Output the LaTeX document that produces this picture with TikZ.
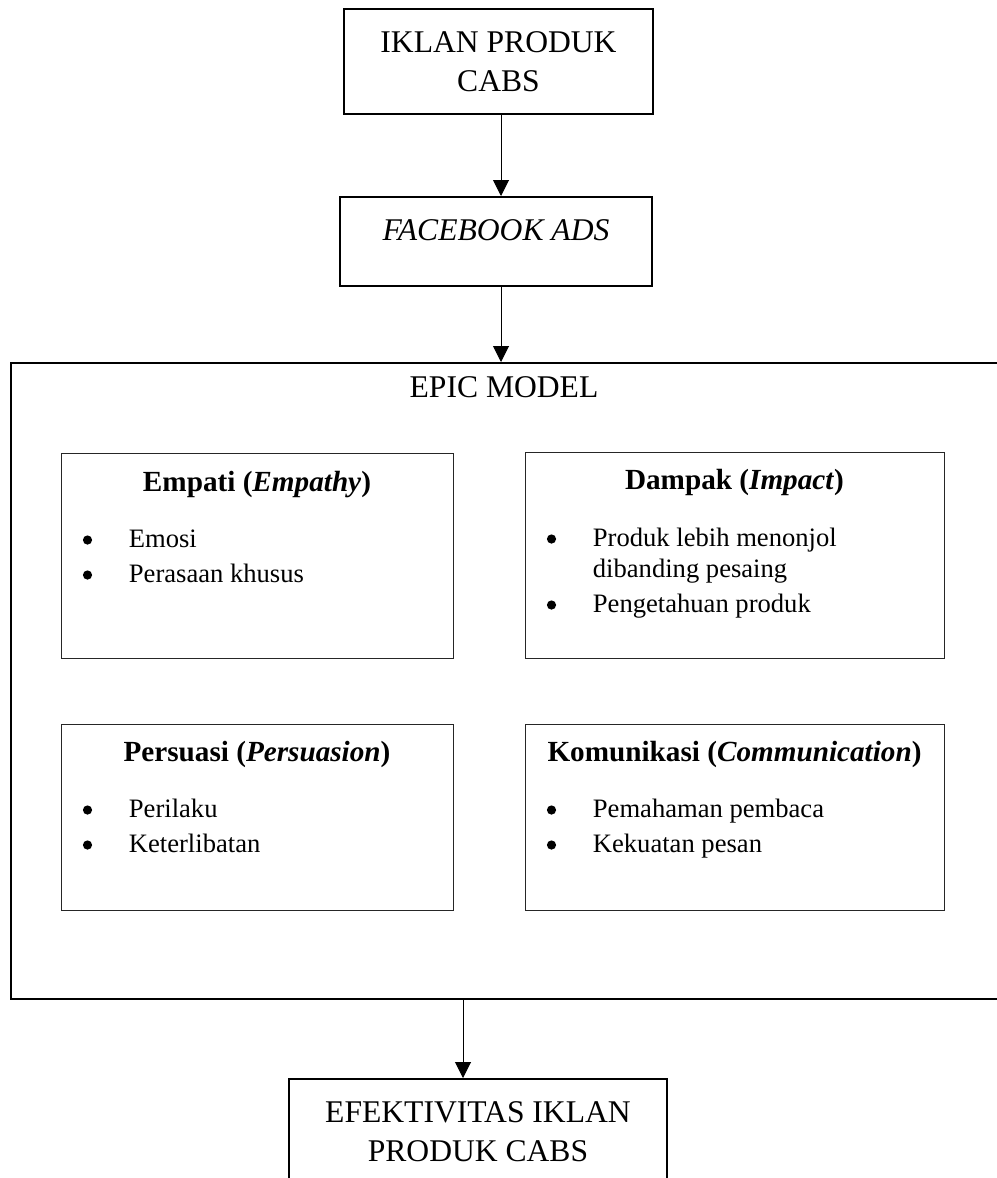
\documentclass[tikz,border=0pt]{standalone}
\usepackage{fontspec}
\setmainfont{Liberation Serif}
\usepackage{tikz}
\usetikzlibrary{arrows.meta,positioning,calc}

\begin{document}
\begin{tikzpicture}[x=0.5pt,y=-0.5pt,
   box/.style={draw=black,line width=1pt,inner sep=0pt},
   sub/.style={draw=black!85,line width=0.5pt,inner sep=0pt},
   big/.style={font=\fontsize{15.8}{19.5}\selectfont,align=center},
   head/.style={font=\fontsize{14.6}{17}\selectfont\bfseries,anchor=base},
   item/.style={font=\fontsize{13.3}{15.5}\selectfont,inner sep=0pt},
   dot/.style={circle,fill=black,inner sep=0pt,minimum size=4.6pt},
   arr/.style={line width=0.5pt,-{Triangle[length=8pt,width=8pt]}}]
  \useasboundingbox (0,0) rectangle (996,1178);
  % top of the flow
  \node[box,big,minimum width=154.5pt,minimum height=52.5pt] (iklan) at (498.5,61.5)
     {IKLAN PRODUK\\CABS};
  \node[box,big,minimum width=156pt,minimum height=44.5pt,text height=11pt,text depth=12.5pt]
     (fb) at (496,241.5) {\textit{FACEBOOK ADS}};
  % EPIC frame (runs off the right edge)
  \node[box,minimum width=497pt,minimum height=318pt] (epic) at (508,681) {};
  \node[big] (epictitle) at (504,387) {EPIC MODEL};
  \node[sub,minimum width=196pt,minimum height=102.5pt] (emp) at (257,555.5) {};
  \node[sub,minimum width=209.5pt,minimum height=103pt] (dam) at (734.5,555) {};
  \node[sub,minimum width=196pt,minimum height=93pt] (per) at (257,817) {};
  \node[sub,minimum width=209.5pt,minimum height=93pt] (kom) at (734.5,817) {};
  \foreach \bx/\dy/\hd in {emp/39/{Empati (\textit{Empathy})},dam/38/{Dampak (\textit{Impact})},
      per/38/{Persuasi (\textit{Persuasion})},kom/38/{Komunikasi (\textit{Communication})}}
    \node[head] (h-\bx) at ($(\bx.north)+(0,\dy)$) {\hd};
  \foreach \bx/\dy/\txt in {emp/95/Emosi,emp/130/Perasaan khusus,
      dam/95/Produk lebih menonjol,dam/126/dibanding pesaing,dam/161/Pengetahuan produk,
      per/94/Perilaku,per/129/Keterlibatan,kom/94/Pemahaman pembaca,kom/129/Kekuatan pesan}
    \node[item,anchor=base west] (t-\bx-\dy) at ($(\bx.north west)+(68,\dy)$) {\txt};
  \foreach \bx/\dy in {emp/95,emp/130,dam/95,dam/161,per/94,per/129,kom/94,kom/129}
    \node[dot] (b-\bx-\dy) at ($(\bx.north west)+(27,\dy-7.5)$) {};
  % result box (bottom edge falls off the page)
  \node[box,big,minimum width=189pt,minimum height=52.5pt] (efek) at (478,1131.5)
     {EFEKTIVITAS IKLAN\\PRODUK CABS};
  % arrows
  \coordinate (ax) at (501,0);
  \coordinate (bx) at (463,0);
  \draw[arr] (iklan.south -| ax) -- (fb.north -| ax);
  \draw[arr] (fb.south -| ax) -- (epic.north -| ax);
  \draw[arr] (epic.south -| bx) -- (efek.north -| bx);
\end{tikzpicture}
\end{document}
